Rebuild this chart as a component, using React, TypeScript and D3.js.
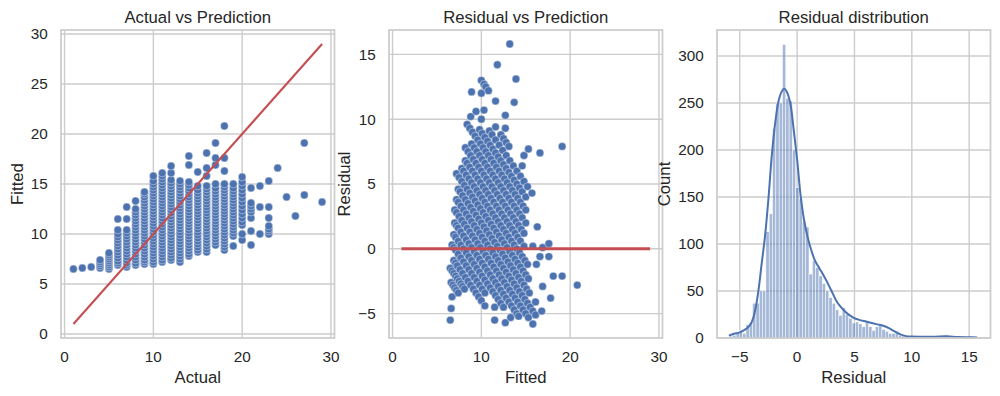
import React from 'react';
import * as d3 from 'd3';

// values

// actual target values (x of panel 1) and the fitted values seen in each column
const actual = [1, 2, 3, 4, 5, 6, 7, 8, 9, 10, 11, 12, 13, 14, 15, 16, 17, 18, 19, 20, 21, 22, 23, 24, 25, 26, 27, 29];
const fittedByActual = [
  [6.5],
  [6.6],
  [6.7],
  [6.6, 6.8, 7.0, 7.2, 7.4],
  [6.5, 6.7, 6.9, 7.1, 7.3, 7.5, 7.7, 7.9, 8.1],
  [6.9, 7.1, 7.3, 7.6, 7.9, 8.2, 8.5, 8.8, 9.1, 9.4, 9.7, 10.0, 10.4, 11.5],
  [6.7, 6.9, 7.1, 7.4, 7.7, 8.0, 8.3, 8.6, 8.9, 9.2, 9.5, 9.8, 10.1, 10.4, 11.5, 12.7],
  [6.9, 7.1, 7.4, 7.7, 8.0, 8.3, 8.6, 8.9, 9.2, 9.5, 9.8, 10.1, 10.4, 10.7, 11.0, 11.3, 11.6, 11.9, 12.2, 12.5, 13.3],
  [7.0, 7.2, 7.4, 7.7, 8.0, 8.3, 8.6, 8.9, 9.2, 9.5, 9.8, 10.1, 10.4, 10.7, 11.0, 11.3, 11.6, 11.9, 12.2, 12.5, 12.8, 13.1, 13.4, 13.7, 14.0, 14.2],
  [7.0, 7.2, 7.5, 7.8, 8.1, 8.4, 8.7, 9.0, 9.3, 9.6, 9.9, 10.2, 10.5, 10.8, 11.1, 11.4, 11.7, 12.0, 12.3, 12.6, 12.9, 13.2, 13.5, 13.8, 14.1, 14.4, 14.7, 15.0, 15.3, 15.8],
  [7.2, 7.4, 7.7, 8.0, 8.3, 8.6, 8.9, 9.2, 9.5, 9.8, 10.1, 10.4, 10.7, 11.0, 11.3, 11.6, 11.9, 12.2, 12.5, 12.8, 13.1, 13.4, 13.7, 14.0, 14.3, 14.6, 14.9, 15.2, 15.5, 15.8, 16.1],
  [7.4, 7.6, 7.9, 8.2, 8.5, 8.8, 9.1, 9.4, 9.7, 10.0, 10.3, 10.6, 10.9, 11.2, 11.5, 11.8, 12.1, 12.4, 12.7, 13.0, 13.3, 13.6, 13.9, 14.2, 14.5, 14.8, 15.1, 15.4, 16.1, 16.8],
  [7.2, 7.5, 7.8, 8.1, 8.4, 8.7, 9.0, 9.3, 9.6, 9.9, 10.2, 10.5, 10.8, 11.1, 11.4, 11.7, 12.0, 12.3, 12.6, 12.9, 13.2, 13.5, 13.8, 14.1, 14.4, 14.7, 15.0, 15.3],
  [7.8, 8.0, 8.3, 8.6, 8.9, 9.2, 9.5, 9.8, 10.1, 10.4, 10.7, 11.0, 11.3, 11.6, 11.9, 12.2, 12.5, 12.8, 13.1, 13.4, 13.7, 14.0, 14.3, 14.6, 14.9, 15.2, 16.9, 17.8],
  [8.2, 8.4, 8.7, 9.0, 9.3, 9.6, 9.9, 10.2, 10.5, 10.8, 11.1, 11.4, 11.7, 12.0, 12.3, 12.6, 12.9, 13.2, 13.5, 13.8, 14.1, 14.4, 14.8, 16.2],
  [8.2, 8.5, 8.8, 9.1, 9.4, 9.7, 10.0, 10.3, 10.6, 10.9, 11.2, 11.5, 11.8, 12.1, 12.4, 12.7, 13.0, 13.3, 13.6, 13.9, 14.2, 14.5, 14.8, 15.8, 16.6, 18.1],
  [8.9, 9.2, 9.5, 9.8, 10.1, 10.4, 10.7, 11.0, 11.3, 11.6, 11.9, 12.2, 12.5, 12.8, 13.1, 13.4, 13.7, 14.0, 14.3, 14.6, 15.0, 16.9, 17.6, 19.1],
  [8.4, 8.7, 9.0, 9.3, 9.6, 9.9, 10.2, 10.5, 10.8, 11.1, 11.4, 11.7, 12.0, 12.3, 12.6, 12.9, 13.2, 13.5, 13.8, 14.1, 14.4, 14.7, 15.0, 16.3, 17.6, 20.8],
  [8.8, 9.8, 10.1, 10.4, 10.7, 11.0, 11.3, 11.6, 11.9, 12.2, 12.5, 12.8, 13.1, 13.4, 13.7, 14.0, 14.3, 14.6, 15.0],
  [9.4, 10.0, 10.9, 11.2, 11.6, 12.0, 12.4, 12.8, 13.2, 13.6, 14.0, 14.4, 14.8, 15.2, 15.7],
  [8.9, 10.3, 11.6, 12.2, 12.5, 12.8, 13.1, 14.6],
  [10.0, 12.7, 14.8],
  [10.0, 10.3, 10.5, 10.8, 11.6, 12.7, 15.3],
  [16.6],
  [13.7],
  [11.8],
  [13.9, 19.1],
  [13.2],
];

// residual histogram: first bin edge, bin width and counts per bin
const residualBinStart = -5.9;
const residualBinWidth = 0.289;
const residualCounts = [
  2, 3, 5, 8, 5, 14, 16, 37, 37, 50,
  50, 113, 132, 223, 249, 250, 312, 255, 252, 200,
  160, 148, 124, 118, 68, 82, 75, 66, 58, 50,
  43, 37, 30, 24, 32, 25, 21, 16, 17, 15,
  12, 18, 12, 8, 12, 13, 9, 7, 5, 5,
  7, 3, 2, 1, 0, 1, 1, 2, 0, 2,
  0, 0, 2, 0, 1, 3, 0, 0, 0, 1,
  0, 0, 0, 0, 1,
];

// kde curve over the histogram (residual, count)
const kdeResidual = [-5.95, -5.5, -5.0, -4.4, -4.0, -3.7, -3.4, -3.1, -2.8, -2.5, -2.2, -1.9, -1.6, -1.3, -1.1, -0.9, -0.6, -0.3, 0.0, 0.3, 0.6, 0.9, 1.2, 1.5, 1.8, 2.2, 2.6, 3.0, 3.4, 3.8, 4.2, 4.6, 5.0, 5.5, 6.0, 6.5, 7.0, 7.5, 8.0, 8.5, 9.0, 9.5, 10.0, 11.0, 12.0, 13.0, 14.0, 15.0, 15.7];
const kdeCount = [2.5, 4.5, 6, 10, 16, 27, 48, 78, 108, 148, 195, 230, 253, 263, 265, 262, 250, 222, 190, 152, 126, 108, 95, 84, 77, 69, 60, 50, 40, 33, 28, 24, 21, 19, 17.5, 16, 14.5, 13, 10.5, 7, 3.8, 2, 1.5, 1.3, 1.4, 1.8, 1.1, 0.8, 0.6];

const ticksActual = [0, 10, 20, 30];
const ticksFittedY = [0, 5, 10, 15, 20, 25, 30];
const ticksFittedX = [0, 10, 20, 30];
const ticksResidualY = [-5, 0, 5, 10, 15];
const ticksResidualX = [-5, 0, 5, 10, 15];
const ticksCount = [0, 50, 100, 150, 200, 250, 300];

const BLUE = '#4c72b0';
const RED = '#c44e52';
const GRID = '#cccccc';
const TEXT = '#262626';
const FONT = '"Liberation Sans", Arial, Helvetica, sans-serif';
const TICK_FS = 15.3;
const LABEL_FS = 16.7;
const TOP = 30;
const BOTTOM = 338;
const AX_W = 273.5;
const LEFTS = [61, 389, 717];
const DOT_R = 3.9;

const points = actual.flatMap((a, i) =>
  fittedByActual[i].map(f => ({ a, f, r: +(a - f).toFixed(2) }))
);

// matplotlib style 5% margins
const pad = (ext: number[]) => {
  const m = (ext[1] - ext[0]) * 0.05;
  return [ext[0] - m, ext[1] + m];
};

const fmt = (v: number) => (v < 0 ? '\u2212' + Math.abs(v) : String(v));
const textW = (s: string) =>
  [...s].reduce((w, c) => w + (c === '\u2212' ? 0.584 : 0.556), 0) * TICK_FS;

function Axes({ left, title, xlabel, ylabel, x, y, xTicks, yTicks, children }: any) {
  const cx = left + AX_W / 2;
  const cy = (TOP + BOTTOM) / 2;
  const yLabelX = left - 13.2 - (d3.max(yTicks, (t: number) => textW(fmt(t))) as number) - 8.1;
  return (
    <g>
      {xTicks.map((t: number) => (
        <line key={'gx' + t} x1={x(t)} x2={x(t)} y1={TOP} y2={BOTTOM} stroke={GRID} strokeWidth={1.4} />
      ))}
      {yTicks.map((t: number) => (
        <line key={'gy' + t} x1={left} x2={left + AX_W} y1={y(t)} y2={y(t)} stroke={GRID} strokeWidth={1.4} />
      ))}
      {children}
      <rect x={left} y={TOP} width={AX_W} height={BOTTOM - TOP} fill="none" stroke={GRID} strokeWidth={1.75} />
      <g fontSize={TICK_FS} fill={TEXT}>
        {xTicks.map((t: number) => (
          <text key={'tx' + t} x={x(t)} y={BOTTOM + 23.6} textAnchor="middle">{fmt(t)}</text>
        ))}
        {yTicks.map((t: number) => (
          <text key={'ty' + t} x={left - 13.2} y={y(t) + 5.4} textAnchor="end">{fmt(t)}</text>
        ))}
      </g>
      <g fontSize={LABEL_FS} fill={TEXT}>
        <text x={cx} y={22.7} textAnchor="middle">{title}</text>
        <text x={cx} y={383} textAnchor="middle">{xlabel}</text>
        <text transform={`translate(${yLabelX},${cy}) rotate(-90)`} textAnchor="middle">{ylabel}</text>
      </g>
    </g>
  );
}

export default function App() {
  // panel 1: actual vs fitted
  const lineExt = d3.extent(actual) as number[];
  const x1 = d3.scaleLinear().domain(pad(lineExt)).range([LEFTS[0], LEFTS[0] + AX_W]);
  const yExt1 = d3.extent([...lineExt, ...points.map(p => p.f)]) as number[];
  const y1 = d3.scaleLinear().domain(pad(yExt1)).range([BOTTOM, TOP]);

  // panel 2: fitted vs residual
  const xExt2 = d3.extent([...lineExt, ...points.map(p => p.f)]) as number[];
  const x2 = d3.scaleLinear().domain(pad(xExt2)).range([LEFTS[1], LEFTS[1] + AX_W]);
  const yExt2 = d3.extent([0, ...points.map(p => p.r)]) as number[];
  const y2 = d3.scaleLinear().domain(pad(yExt2)).range([BOTTOM, TOP]);

  // panel 3: residual histogram
  const edges = d3.range(residualCounts.length + 1).map(i => residualBinStart + i * residualBinWidth);
  const x3 = d3.scaleLinear().domain(pad([edges[0], edges[edges.length - 1]])).range([LEFTS[2], LEFTS[2] + AX_W]);
  const y3 = d3.scaleLinear().domain([0, (d3.max(residualCounts) as number) * 1.05]).range([BOTTOM, TOP]);
  const kdeLine = d3
    .line<number>()
    .x(d => x3(d))
    .y((_, i) => y3(kdeCount[i]))
    .curve(d3.curveCatmullRom);

  return (
    <div style={{ position: 'absolute', left: 0, top: 0 }}>
      <svg width={1000} height={396} style={{ display: 'block', background: '#fff' }} fontFamily={FONT}>
        <Axes left={LEFTS[0]} title="Actual vs Prediction" xlabel="Actual" ylabel="Fitted"
          x={x1} y={y1} xTicks={ticksActual} yTicks={ticksFittedY}>
          {points.map((p, i) => (
            <circle key={i} cx={x1(p.a)} cy={y1(p.f)} r={DOT_R} fill={BLUE} stroke="#fff" strokeOpacity={0.8} strokeWidth={0.5} />
          ))}
          <line x1={x1(lineExt[0])} y1={y1(lineExt[0])} x2={x1(lineExt[1])} y2={y1(lineExt[1])}
            stroke={RED} strokeWidth={2.1} />
        </Axes>
        <Axes left={LEFTS[1]} title="Residual vs Prediction" xlabel="Fitted" ylabel="Residual"
          x={x2} y={y2} xTicks={ticksFittedX} yTicks={ticksResidualY}>
          {points.map((p, i) => (
            <circle key={i} cx={x2(p.f)} cy={y2(p.r)} r={DOT_R} fill={BLUE} stroke="#fff" strokeOpacity={0.8} strokeWidth={0.5} />
          ))}
          <line x1={x2(lineExt[0])} y1={y2(0)} x2={x2(lineExt[1])} y2={y2(0)} stroke={RED} strokeWidth={3} />
        </Axes>
        <Axes left={LEFTS[2]} title="Residual distribution" xlabel="Residual" ylabel="Count"
          x={x3} y={y3} xTicks={ticksResidualX} yTicks={ticksCount}>
          {residualCounts.map((c, i) =>
            c > 0 ? (
              <rect key={i} x={x3(edges[i])} y={y3(c)} width={x3(edges[i + 1]) - x3(edges[i])}
                height={y3(0) - y3(c)} fill={BLUE} fillOpacity={0.5} stroke="#fff" strokeWidth={0.5} />
            ) : null
          )}
          <path d={kdeLine(kdeResidual) || ''} fill="none" stroke={BLUE} strokeWidth={2} />
        </Axes>
      </svg>
    </div>
  );
}
